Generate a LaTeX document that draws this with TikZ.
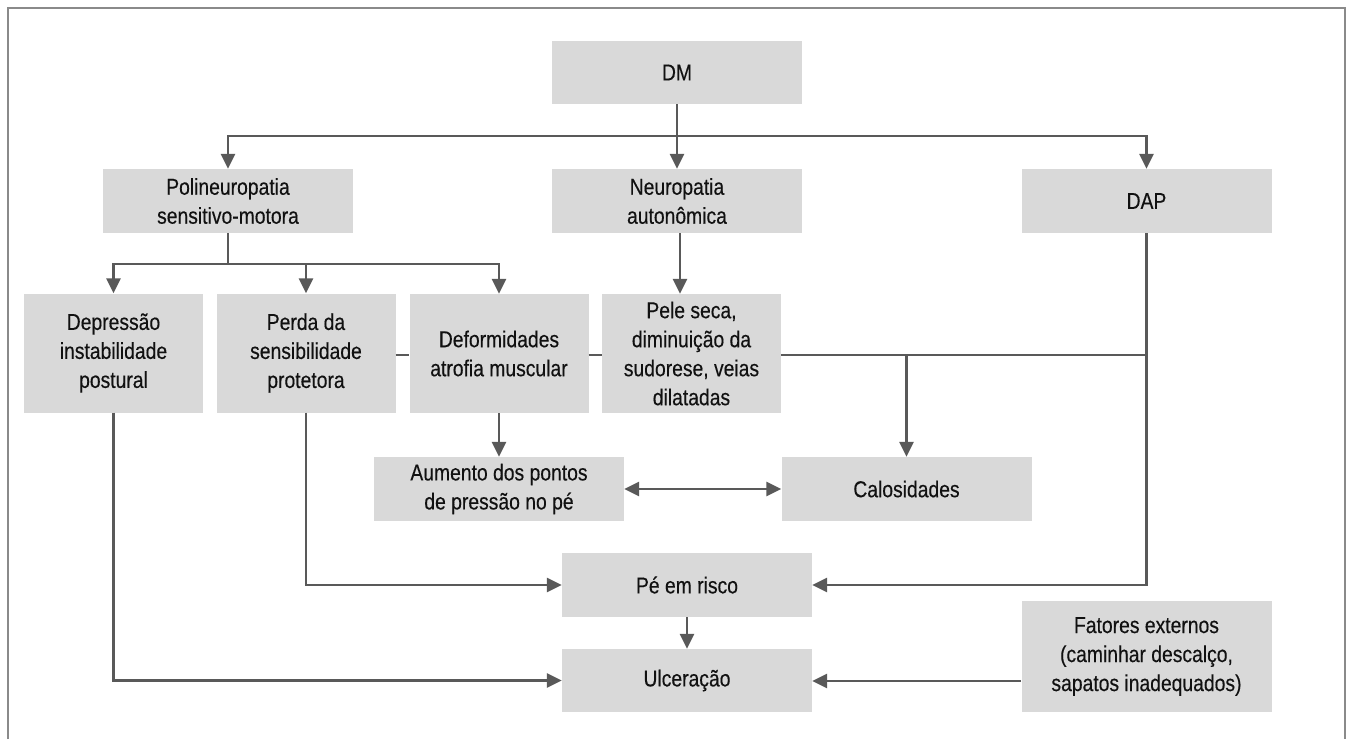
\documentclass[tikz,border=0pt]{standalone}
\usepackage{fontspec}
\setmainfont{Liberation Sans}[FakeStretch=0.84, FakeBold=0.3]
\usetikzlibrary{arrows.meta}
\definecolor{boxfill}{HTML}{D9D9D9}
\definecolor{linecol}{HTML}{595959}
\definecolor{framecol}{HTML}{8A8A8A}
\definecolor{txtcol}{HTML}{111111}
\begin{document}
\begin{tikzpicture}[x=1pt,y=-1pt,
  box/.style={fill=boxfill, draw=none, inner sep=0pt, align=center, text=txtcol,
    font=\fontsize{23}{29}\selectfont},
  wide/.style={minimum width=250pt, minimum height=64pt},
  tall/.style={minimum width=179pt, minimum height=119pt},
  conn/.style={draw=linecol, line width=2.7pt},
  arr/.style={conn, -{Triangle[length=15pt,width=14pt]}},
  darr/.style={conn, {Triangle[length=15pt,width=14pt]}-{Triangle[length=15pt,width=14pt]}},
  frame/.style={draw=framecol, line width=2pt}]
\useasboundingbox (0,0) rectangle (1349,739);
\draw[frame] (8,739) -- (8,8) -- (1345,8) -- (1345,739);

\node[box, wide, minimum height=63pt] (DM) at (677,72.5) {DM};
\node[box, wide] (Poli) at (228,201) {Polineuropatia\\sensitivo-motora};
\node[box, wide] (Neuro) at (677,201) {Neuropatia\\autonômica};
\node[box, wide] (DAP) at (1146.5,201) {DAP};

\node[box, tall] (Dep) at (113.5,353) {Depressão\\instabilidade\\postural};
\node[box, tall] (Perda) at (306,353) {Perda da\\sensibilidade\\protetora};
\node[box, tall] (Def) at (499,353.5) {Deformidades\\atrofia muscular};
\node[box, tall] (Pele) at (691.5,353.5) {Pele seca,\\diminuição da\\sudorese, veias\\dilatadas};

\node[box, wide] (Aum) at (499,489) {Aumento dos pontos\\de pressão no pé};
\node[box, wide] (Cal) at (906.5,489) {Calosidades};
\node[box, wide] (Pe) at (687,585) {Pé em risco};
\node[box, wide, minimum height=63pt] (Ulc) at (687,680.5) {Ulceração};
\node[box, wide, minimum height=111pt] (Fat) at (1146.5,656.5) {Fatores externos\\(caminhar descalço,\\sapatos inadequados)};

\coordinate (j1) at (677,136);
\coordinate (j2) at (228,264);
\coordinate (j3) at (906.5,355);
\coordinate (nz) at (680,233);
\coordinate (fz) at (1021,681);

% DM branches
\draw[conn] (DM.south) -- (j1);
\draw[arr] (j1) -- (Neuro.north);
\draw[arr] (j1) -| (Poli.north);
\draw[arr] (j1) -| (DAP.north);

% Polineuropatia branches
\draw[conn] (Poli.south) -- (j2);
\draw[arr] (j2) -| (Dep.north);
\draw[arr] (j2) -| (Perda.north);
\draw[arr] (j2) -| (Def.north);

% Neuropatia -> Pele
\draw[arr] (nz) -- (nz |- Pele.north);

% Calosidades collector
\draw[conn] (Perda.east |- j3) -- (Def.west |- j3);
\draw[conn] (Def.east |- j3) -- (Pele.west |- j3);
\draw[conn] (Pele.east |- j3) -- (DAP.south |- j3);
\draw[arr] (j3) -- (Cal.north);

% DAP -> Pe em risco
\draw[arr] (DAP.south) |- (Pe.east);

% Deformidades -> Aumento
\draw[arr] (Def.south) -- (Aum.north);
\draw[darr] (Aum.east) -- (Cal.west);

% Perda -> Pe em risco
\draw[arr] (Perda.south) |- (Pe.west);
% Pe -> Ulceracao
\draw[arr] (Pe.south) -- (Ulc.north);
% Depressao -> Ulceracao
\draw[arr] (Dep.south) |- (Ulc.west);
% Fatores -> Ulceracao
\draw[arr] (fz) -- (Ulc.east |- fz);
\end{tikzpicture}
\end{document}
